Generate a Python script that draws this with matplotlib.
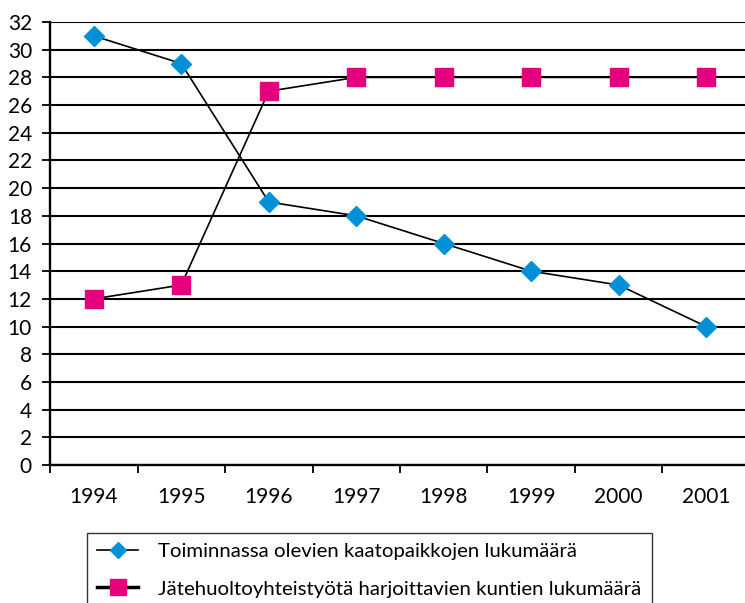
import matplotlib
matplotlib.use("Agg")
import matplotlib.pyplot as plt
from matplotlib.ticker import FixedLocator

years = ["1994", "1995", "1996", "1997", "1998", "1999", "2000", "2001"]
kaatopaikat = [31, 29, 19, 18, 16, 14, 13, 10]
kunnat = [12, 13, 27, 28, 28, 28, 28, 28]
label1 = "Toiminnassa olevien kaatopaikkojen lukumäärä"
label2 = "Jätehuoltoyhteistyötä harjoittavien kuntien lukumäärä"
yticks = list(range(0, 33, 2))

plt.rcParams['font.family'] = ['Lato', 'DejaVu Sans']

fig = plt.figure(figsize=(7.45, 6.03), dpi=100)
ax = fig.add_axes([50/745, (603-465)/603, 700/745, (465-22)/603])

x = list(range(len(years)))
ax.plot(x, kaatopaikat, color='black', lw=1.2, marker='D', markersize=10,
        markerfacecolor='#0090D8', markeredgecolor='#0090D8', label=label1, zorder=3)
ax.plot(x, kunnat, color='black', lw=1.2, marker='s', markersize=13,
        markerfacecolor='#E4007C', markeredgecolor='#E4007C', label=label2, zorder=3)

ax.set_xlim(-0.5, len(years) - 0.5)
ax.set_ylim(0, 32)
ax.set_yticks(yticks)
ax.set_xticks(x)
ax.set_xticklabels(years)
ax.xaxis.set_minor_locator(FixedLocator([i - 0.5 for i in range(len(years) + 1)]))
ax.tick_params(axis='x', which='major', length=0, pad=16, labelsize=15)
ax.tick_params(axis='x', which='minor', length=6, width=1.3, direction='out')
ax.tick_params(axis='y', length=6, width=1.3, pad=7, labelsize=15)

ax.grid(axis='y', color='black', lw=1.5)
ax.set_axisbelow(True)
for s in ['top', 'right']:
    ax.spines[s].set_visible(False)
for s in ['left', 'bottom']:
    ax.spines[s].set_linewidth(1.7)

h1, = ax.plot([], [], color='black', lw=1.2, marker='D', markersize=8,
              markerfacecolor='#0090D8', markeredgecolor='#0090D8')
h2, = ax.plot([], [], color='black', lw=2.5, marker='s', markersize=11,
              markerfacecolor='#E4007C', markeredgecolor='#E4007C')
leg = fig.legend([h1, h2], [label1, label2], loc='upper left',
                 bbox_to_anchor=(87/745, 1 - 533/603), fontsize=14.7,
                 frameon=True, fancybox=False, edgecolor='black',
                 handlelength=2.0, handletextpad=1.0, labelspacing=0.97,
                 borderpad=0.5, borderaxespad=0)
leg.get_frame().set_linewidth(1.0)

fig.savefig("out.png", dpi=100)
